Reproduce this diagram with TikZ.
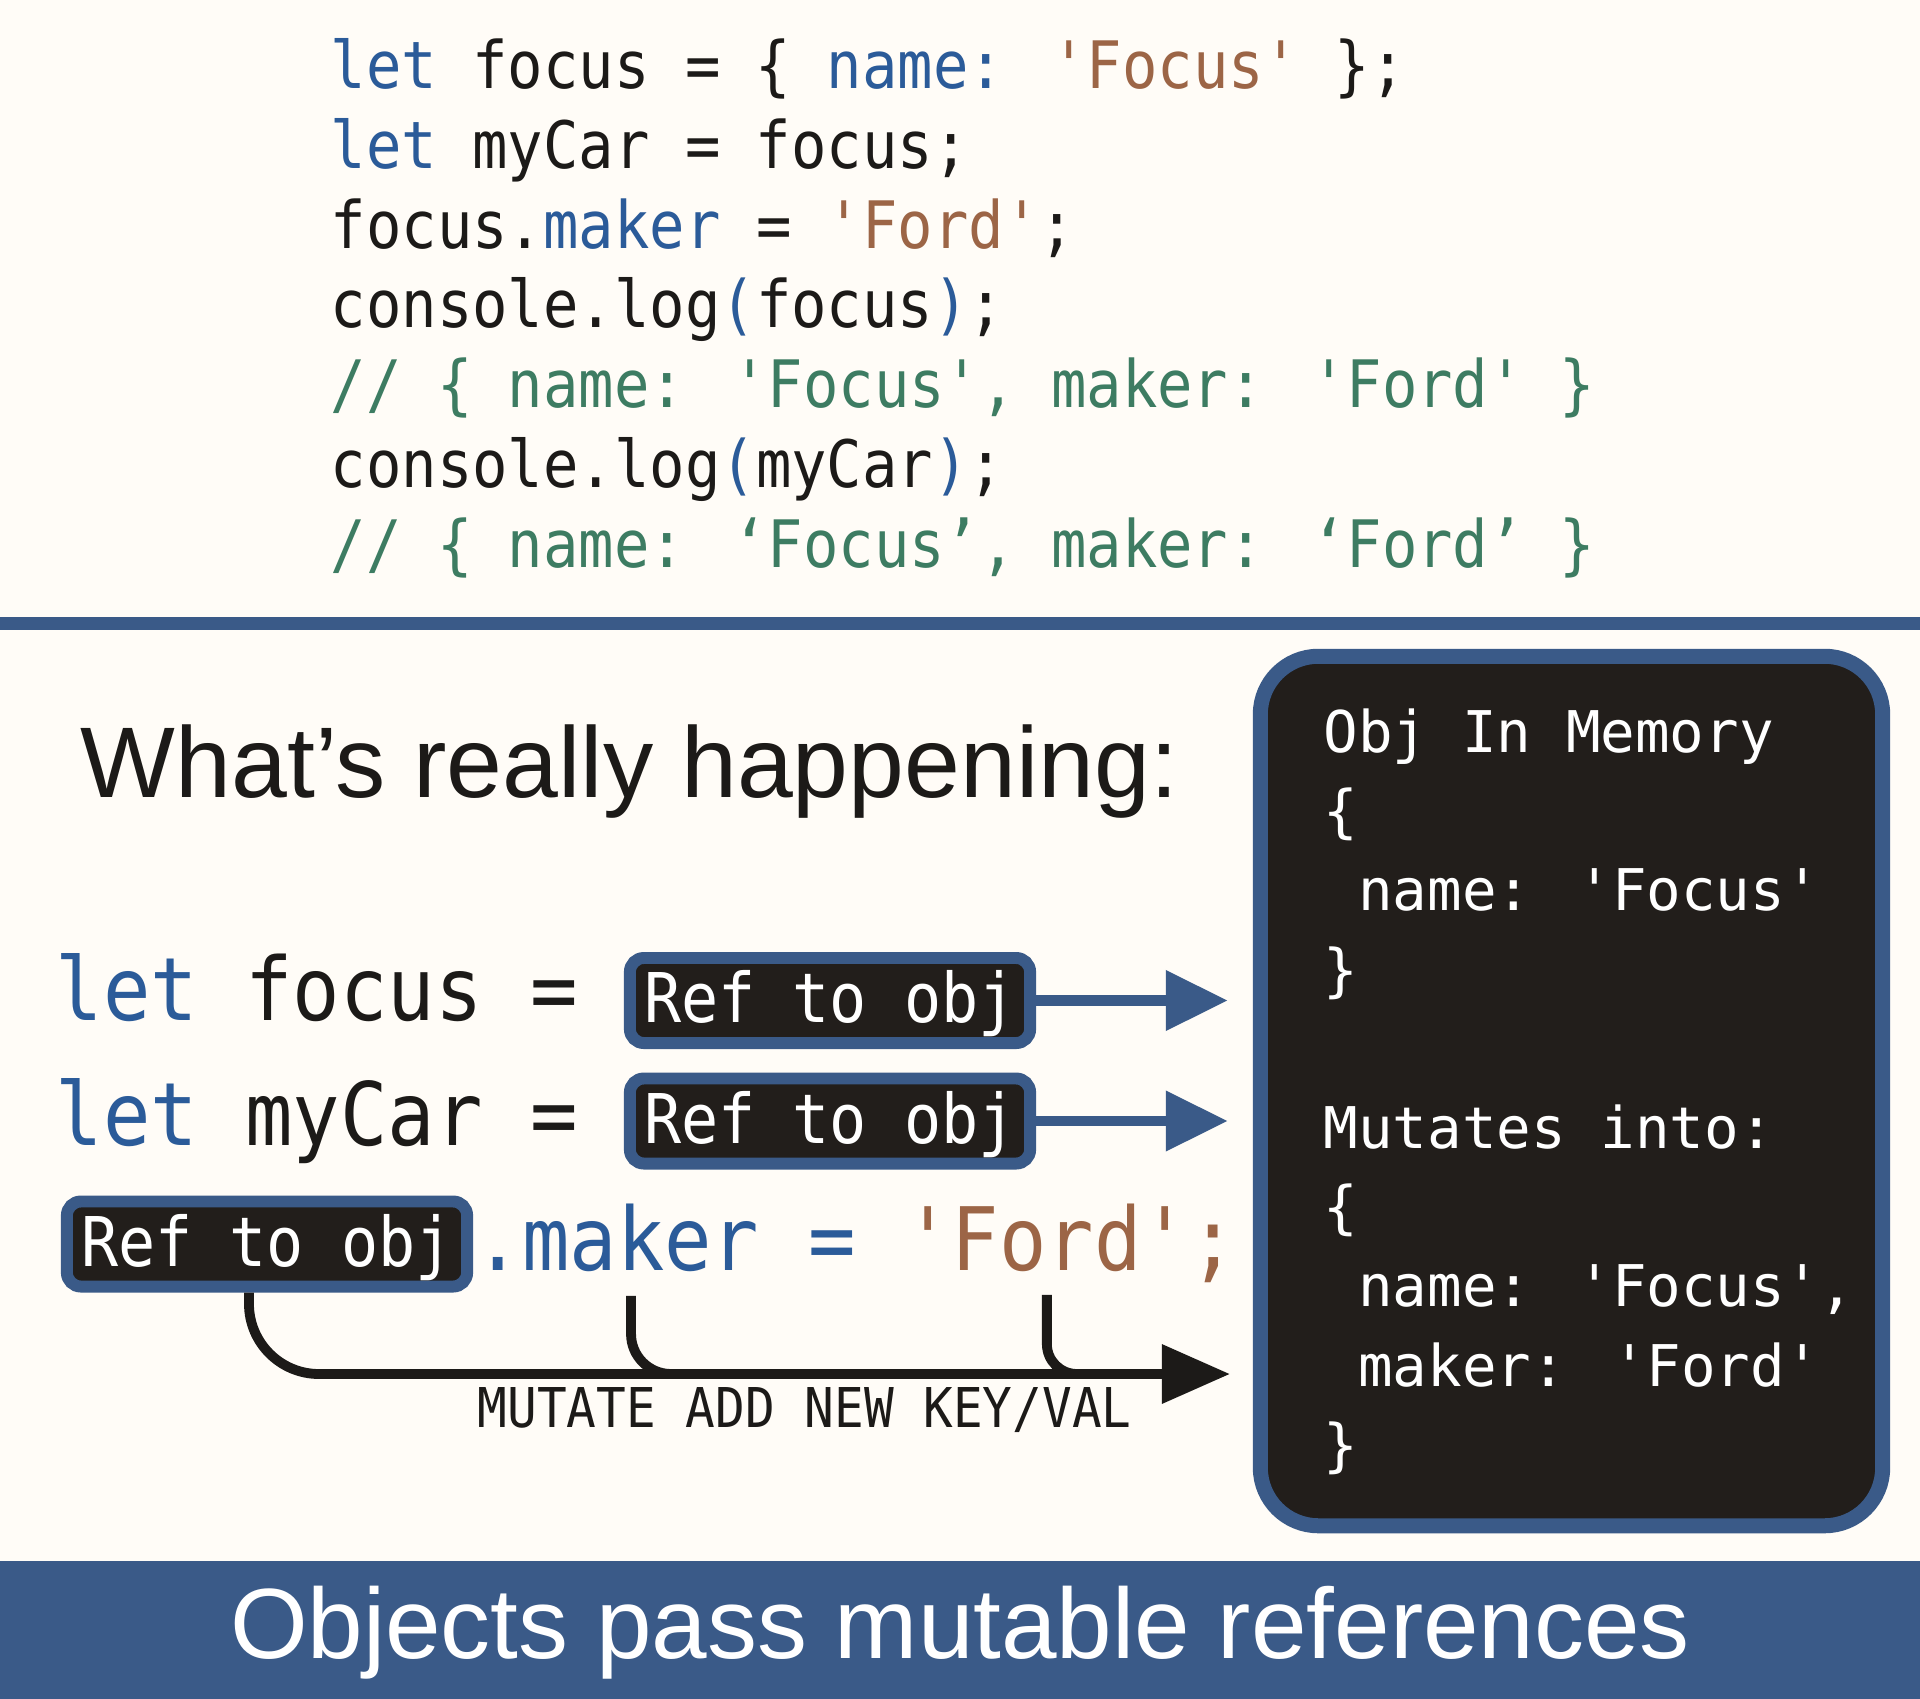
\documentclass[tikz,border=0pt]{standalone}
\usepackage{fontspec}
\setmainfont{Liberation Sans}
\newfontfamily\codefont[FakeStretch=0.9,Ligatures=TeXOff]{DejaVu Sans Mono}
\newfontfamily\memfont[Ligatures=TeXOff]{DejaVu Sans Mono}
\usetikzlibrary{arrows.meta, positioning}

\definecolor{paper}{HTML}{FFFCF7}
\definecolor{frameblue}{HTML}{3A5A88}
\definecolor{kwblue}{HTML}{2B5B99}
\definecolor{strbrown}{HTML}{9C6546}
\definecolor{cmtgreen}{HTML}{3D7C62}
\definecolor{boxdark}{HTML}{221E1B}
\definecolor{ink}{HTML}{1C1A18}

\tikzset{
  code/.style={anchor=base west, inner sep=0pt, text=ink, font={\codefont\fontsize{18.6pt}{22pt}\selectfont}},
  bigcode/.style={anchor=base west, inner sep=0pt, text=ink, font={\codefont\fontsize{24.9pt}{28pt}\selectfont}},
  refbox/.style={draw=frameblue, line width=3.4pt, fill=boxdark, rounded corners=0.14cm,
    minimum width=4cm, minimum height=0.85cm, inner sep=0pt, text=white, text depth=0.08cm,
    font={\codefont\fontsize{19.5pt}{22pt}\selectfont}},
  membox/.style={draw=frameblue, line width=4.27pt, fill=boxdark, rounded corners=0.58cm,
    minimum width=6.22cm, minimum height=8.69cm, inner sep=0pt},
  memline/.style={anchor=base west, inner sep=0pt, text=white, font={\memfont\fontsize{16.35pt}{20pt}\selectfont}},
  refarrow/.style={draw=frameblue, line width=3pt, -{Triangle[length=0.62cm, width=0.58cm]}, shorten >=0.25cm},
  addline/.style={draw=ink, line width=2.8pt}
}

\begin{document}
\begin{tikzpicture}[x=0.01cm, y=-0.01cm]
% page
\fill[paper] (0,0) rectangle (1920,1699);
\fill[frameblue] (0,617) rectangle (1920,630);
\fill[frameblue] (0,1561) rectangle (1920,1699);

% source code
\node[code] (line1) at (330,88) {\textcolor{kwblue}{let} focus = \{ \textcolor{kwblue}{name:} \textcolor{strbrown}{'Focus'} \};};
\node[code] (line2) at (330,168) {\textcolor{kwblue}{let} myCar = focus;};
\node[code] (line3) at (330,248) {focus.\textcolor{kwblue}{maker} = \textcolor{strbrown}{'Ford'};};
\node[code] (line4) at (330,327) {console.log\textcolor{kwblue}{(}focus\textcolor{kwblue}{)};};
\node[code, text=cmtgreen] (line5) at (330,407) {// \{ name: 'Focus', maker: 'Ford' \}};
\node[code] (line6) at (330,487) {console.log\textcolor{kwblue}{(}myCar\textcolor{kwblue}{)};};
\node[code, text=cmtgreen] (line7) at (330,567) {// \{ name: ‘Focus’, maker: ‘Ford’ \}};

\node[anchor=base west, inner sep=0pt, text=ink, font={\fontsize{28.55pt}{34pt}\selectfont}] (title) at (80,797) {What’s really happening:};

% object in memory
\node[membox] (mem) at (1571.5,1091) {};
\node[memline] (mem1) at (1323,752) {Obj In Memory};
\node[memline] (mem2) at (1323,831) {\{};
\node[memline] (mem3) at (1323,910) {~name: 'Focus'};
\node[memline] (mem4) at (1323,990) {\}};
\node[memline] (mem5) at (1323,1148) {Mutates into:};
\node[memline] (mem6) at (1323,1227) {\{};
\node[memline] (mem7) at (1323,1306) {~name: 'Focus',};
\node[memline] (mem8) at (1323,1386) {~maker: 'Ford'};
\node[memline] (mem9) at (1323,1465) {\}};

% references
\node[bigcode] (letfocus) at (55,1020) {\textcolor{kwblue}{let} focus =};
\node[bigcode] (letcar) at (55,1145) {\textcolor{kwblue}{let} myCar =};
\node[refbox] (ref1) at (830,1000.5) {Ref to obj};
\node[refbox] (ref2) at (830,1121) {Ref to obj};
\node[refbox] (ref3) at (267,1244) {Ref to obj};
\node[bigcode, text=kwblue] (makerkey) at (474,1270) {.maker};
\node[bigcode, text=kwblue, base right=0pt of makerkey] (makereq) {~=};
\node[bigcode, text=strbrown, base right=0pt of makereq] (makerval) {~'Ford';};

\draw[refarrow] (ref1.east) -- (ref1.east -| mem.west);
\draw[refarrow] (ref2.east) -- (ref2.east -| mem.west);

\coordinate (addtip) at (1230,1374);
\draw[addline, rounded corners=0.7cm, -{Triangle[length=0.68cm, width=0.57cm]}] ([xshift=-0.18cm]ref3.south) |- (addtip);
\draw[addline, rounded corners=0.4cm] ([shift={(14,24)}]makerkey.south) |- ([xshift=-0.5cm]addtip);
\draw[addline, rounded corners=0.3cm] ([shift={(0,12)}]makerval.south) |- ([xshift=-0.5cm]addtip);
\node[anchor=base west, inner sep=0pt, text=ink, font={\codefont\fontsize{15.6pt}{18pt}\selectfont}] (mutate) at (477,1427) {MUTATE ADD NEW KEY/VAL};

% caption
\node[anchor=base, inner sep=0pt, text=white, font={\fontsize{28.4pt}{34pt}\selectfont}] (caption) at (960,1658) {Objects pass mutable references};
\end{tikzpicture}
\end{document}
